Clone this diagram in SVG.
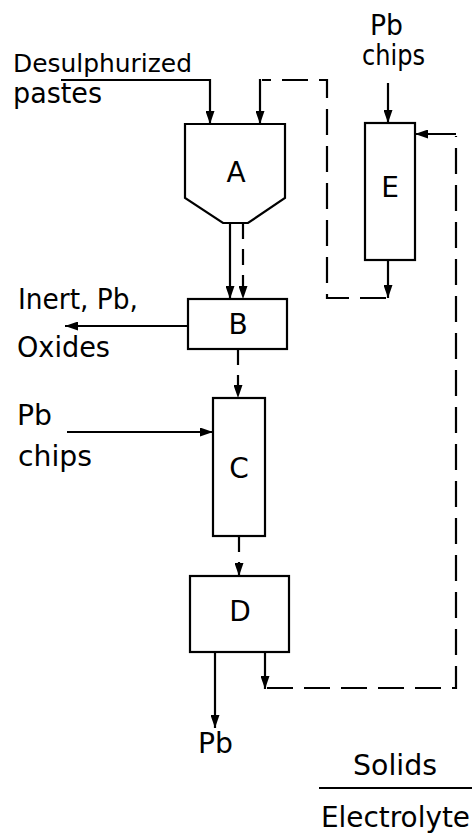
<svg xmlns="http://www.w3.org/2000/svg" width="472" height="835" viewBox="0 0 472 835">
<style>
.box{fill:none;stroke:#000;stroke-width:2.2}
.s{fill:none;stroke:#000;stroke-width:2.2}
.d{fill:none;stroke:#000;stroke-width:2.2;stroke-dasharray:26 11}
.ds{fill:none;stroke:#000;stroke-width:2.2;stroke-dasharray:16 10}
text{font-family:"DejaVu Sans","Liberation Sans",sans-serif;fill:#000}
.lbl{font-size:28px}
.nl{font-size:28px;text-anchor:middle}
</style>
<defs>
<marker id="ah" viewBox="0 0 13 9" refX="13" refY="4.5" markerWidth="13" markerHeight="9" markerUnits="userSpaceOnUse" orient="auto">
<path d="M0,0 L13,4.5 L0,9 Z" fill="#000"/>
</marker>
</defs>
<rect width="472" height="835" fill="#fff"/>
<g id="A"><path class="box" d="M185,124 H285 V198 L248,223 H223 L185,198 Z"/><text class="nl" x="236" y="182">A</text></g>
<g id="B"><rect class="box" x="188" y="299" width="99" height="50"/><text class="nl" x="238" y="334">B</text></g>
<g id="C"><rect class="box" x="213" y="398" width="52" height="138"/><text class="nl" x="239" y="478">C</text></g>
<g id="D"><rect class="box" x="190" y="576" width="99" height="76"/><text class="nl" x="240" y="621">D</text></g>
<g id="E"><rect class="box" x="365" y="123" width="50" height="137"/><text class="nl" x="390" y="197">E</text></g>
<g id="labels">
<text x="13" y="72" font-size="25" textLength="179" lengthAdjust="spacingAndGlyphs">Desulphurized</text>
<text x="13" y="103" class="lbl" textLength="89" lengthAdjust="spacingAndGlyphs">pastes</text>
<text x="370" y="35" class="lbl" textLength="33" lengthAdjust="spacingAndGlyphs">Pb</text>
<text x="362" y="65" class="lbl" textLength="63" lengthAdjust="spacingAndGlyphs">chips</text>
<text x="18" y="309" class="lbl" textLength="120" lengthAdjust="spacingAndGlyphs">Inert, Pb,</text>
<text x="17" y="357" class="lbl" textLength="93" lengthAdjust="spacingAndGlyphs">Oxides</text>
<text x="17" y="425" class="lbl" textLength="35" lengthAdjust="spacingAndGlyphs">Pb</text>
<text x="18" y="466" class="lbl" textLength="74" lengthAdjust="spacingAndGlyphs">chips</text>
<text x="198" y="753" class="lbl" textLength="35" lengthAdjust="spacingAndGlyphs">Pb</text>
<text x="353" y="775" class="lbl" textLength="84" lengthAdjust="spacingAndGlyphs">Solids</text>
<text x="321" y="827" class="lbl" textLength="149" lengthAdjust="spacingAndGlyphs">Electrolyte</text>
</g>
<g id="connectors">
<path class="s" d="M61,80 H210 V124" marker-end="url(#ah)"/>
<path class="s" d="M388,83 V123" marker-end="url(#ah)"/>
<path class="s" d="M388,260 V298" marker-end="url(#ah)"/>
<path class="d" d="M386,298 H327 V80 H262"/>
<path class="s" d="M260,79 V124" marker-end="url(#ah)"/>
<path class="d" d="M267,688 H456 V136"/>
<path class="s" d="M456,134 H415" marker-end="url(#ah)"/>
<path class="s" d="M265,652 V689" marker-end="url(#ah)"/>
<path class="s" d="M230,223 V299" marker-end="url(#ah)"/>
<path class="ds" d="M243,223 V299" marker-end="url(#ah)"/>
<path class="s" d="M188,326 H65" marker-end="url(#ah)"/>
<path class="ds" d="M238,349 V398" marker-end="url(#ah)"/>
<path class="s" d="M67,432 H213" marker-end="url(#ah)"/>
<path class="ds" d="M239,536 V576" marker-end="url(#ah)"/>
<path class="s" d="M215,652 V728" marker-end="url(#ah)"/>
</g>
<g id="legend"><path class="s" d="M319,788 H472"/></g>
</svg>
